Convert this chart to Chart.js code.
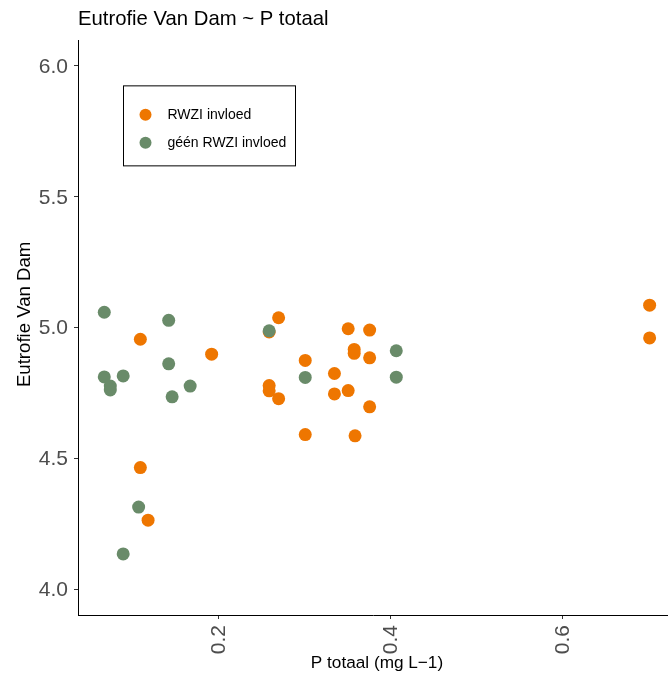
<!DOCTYPE html>
<html><head><meta charset="utf-8">
<script src="https://cdn.jsdelivr.net/npm/chart.js@4/dist/chart.umd.min.js"></script>
<style>html,body{margin:0;padding:0;background:#fff;overflow:hidden}</style>
</head><body>
<canvas id="c" width="668" height="675" style="display:block"></canvas>
<script>
const seriesNames = ['RWZI invloed', 'géén RWZI invloed'];
const seriesColors = ['#EE7600', '#698B69'];

const rwziX = [0.109, 0.192, 0.270, 0.259, 0.259, 0.259, 0.270, 0.109, 0.118, 0.351, 0.376, 0.358, 0.358, 0.376, 0.301, 0.335, 0.335, 0.351, 0.376, 0.301, 0.359, 0.702, 0.702];
const rwziY = [4.954, 4.897, 5.036, 4.982, 4.777, 4.757, 4.727, 4.464, 4.263, 4.994, 4.989, 4.915, 4.900, 4.883, 4.873, 4.823, 4.745, 4.758, 4.696, 4.590, 4.585, 5.084, 4.959];

const geenX = [0.067, 0.142, 0.067, 0.089, 0.074, 0.074, 0.142, 0.167, 0.146, 0.259, 0.107, 0.089, 0.301, 0.407, 0.407];
const geenY = [5.057, 5.026, 4.810, 4.814, 4.775, 4.760, 4.860, 4.775, 4.734, 4.986, 4.313, 4.134, 4.808, 4.910, 4.809];

const xTicks = [0.2, 0.4, 0.6];
const yTicks = [4.0, 4.5, 5.0, 5.5, 6.0];

const titleText = 'Eutrofie Van Dam ~ P totaal';
const xTitleText = 'P totaal (mg L−1)';
const yTitleText = 'Eutrofie Van Dam';

const FONT = "'Liberation Sans', Arial, Helvetica, sans-serif";

function pts(xs, ys) { return xs.map((x, i) => ({ x: x, y: ys[i] })); }

const extras = {
  id: 'extras',
  afterDraw(chart) {
    const ctx = chart.ctx, ca = chart.chartArea;
    ctx.save();
    // axis titles
    ctx.fillStyle = '#000';
    ctx.textAlign = 'center';
    ctx.textBaseline = 'alphabetic';
    ctx.font = '17.2px ' + FONT;
    ctx.fillText(xTitleText, ca.left + 299, 668);
    ctx.save();
    ctx.translate(29.5, ca.top + 274);
    ctx.rotate(-Math.PI / 2);
    ctx.font = '18.6px ' + FONT;
    ctx.fillText(yTitleText, 0, 0);
    ctx.restore();
    // legend box
    const left = ca.left + 45.5, top = ca.top + 45.5, w = 172, h = 80;
    ctx.fillStyle = '#fff';
    ctx.fillRect(left, top, w, h);
    ctx.strokeStyle = '#000';
    ctx.lineWidth = 1;
    ctx.strokeRect(left, top, w, h);
    ctx.font = '14px ' + FONT;
    ctx.textBaseline = 'middle';
    ctx.textAlign = 'left';
    seriesNames.forEach((name, i) => {
      const cy = top + 29 + i * 28;
      ctx.beginPath();
      ctx.arc(left + 22, cy, 6, 0, Math.PI * 2);
      ctx.fillStyle = seriesColors[i];
      ctx.fill();
      ctx.fillStyle = '#000';
      ctx.fillText(name, left + 44, cy + 0.5);
    });
    ctx.restore();
  }
};

const tickFont = { family: FONT, size: 21 };

new Chart(document.getElementById('c'), {
  type: 'scatter',
  data: {
    datasets: [
      { label: seriesNames[0], data: pts(rwziX, rwziY), backgroundColor: seriesColors[0], borderWidth: 0, pointRadius: 6.5, order: 1, clip: false },
      { label: seriesNames[1], data: pts(geenX, geenY), backgroundColor: seriesColors[1], borderWidth: 0, pointRadius: 6.5, order: 0, clip: false }
    ]
  },
  options: {
    responsive: false,
    animation: false,
    devicePixelRatio: 1,
    layout: { autoPadding: false, padding: { left: 0, right: 0, top: 0, bottom: 0 } },
    plugins: {
      legend: { display: false },
      tooltip: { enabled: false },
      title: {
        display: true, text: titleText, align: 'start', fullSize: false,
        color: '#000', font: { family: FONT, size: 20.3, weight: 'normal' },
        padding: { top: 7, bottom: 9 }
      }
    },
    scales: {
      x: {
        type: 'linear', min: 0.0364, max: 0.7234,
        afterBuildTicks: s => { s.ticks = xTicks.map(v => ({ value: v })); },
        afterFit: s => { s.height = 60; s.paddingLeft = 0; s.paddingRight = 0; },
        ticks: { minRotation: 90, maxRotation: 90, autoSkip: false, padding: 6, labelOffset: 1, color: '#4D4D4D', font: tickFont, callback: v => Number(v).toFixed(1) },
        grid: { display: true, drawOnChartArea: false, drawTicks: true, tickLength: 4, color: '#333', tickWidth: 1 },
        border: { display: true, color: '#000', width: 1 }
      },
      y: {
        type: 'linear', min: 3.9008, max: 6.0954,
        afterBuildTicks: s => { s.ticks = yTicks.map(v => ({ value: v })); },
        afterFit: s => { s.width = 78; s.paddingTop = 0; s.paddingBottom = 0; },
        ticks: { padding: 6, labelOffset: 1.5, color: '#4D4D4D', font: tickFont, callback: v => Number(v).toFixed(1) },
        grid: { display: true, drawOnChartArea: false, drawTicks: true, tickLength: 4, color: '#333', tickWidth: 1 },
        border: { display: true, color: '#000', width: 1 }
      }
    }
  },
  plugins: [extras]
});
</script>
</body></html>
